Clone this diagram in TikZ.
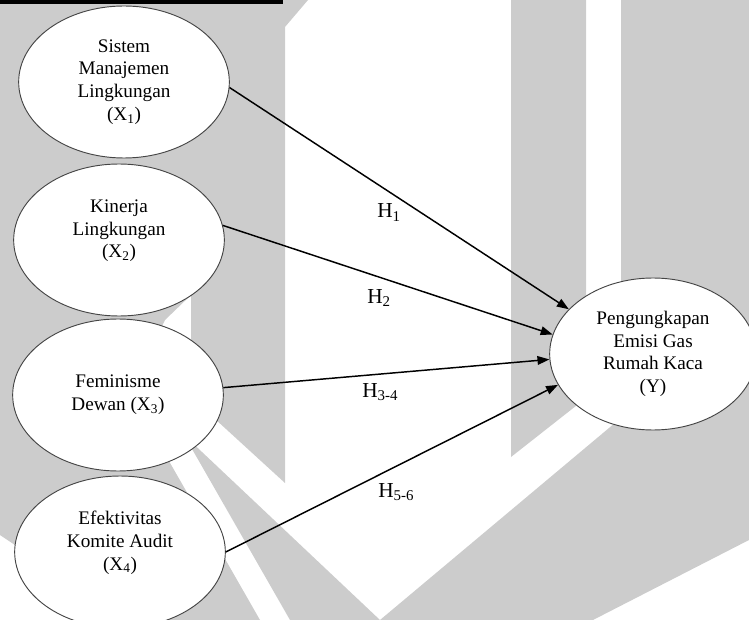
\documentclass[tikz,border=0pt]{standalone}
\usepackage{fontspec}
\setmainfont{Liberation Serif}
\usetikzlibrary{shapes.geometric}
\usetikzlibrary{arrows.meta}
\RequirePackage{xcolor}
\definecolor{wmgrey}{HTML}{CCCCCC}
\definecolor{rimgrey}{HTML}{454545}

\begin{document}
\begin{tikzpicture}[x=0.75pt, y=-0.75pt,
    var/.style={ellipse, draw=rimgrey, line width=0.7pt, fill=white, inner sep=0pt,
      minimum width=158pt, minimum height=114pt, align=center,
      font=\fontsize{14.4}{17}\selectfont},
    hyp/.style={-{Triangle[length=9pt,width=6.5pt]}, line width=1.1pt},
    hlab/.style={anchor=base west, inner sep=0pt, font=\fontsize{16}{19}\selectfont}]

	    % page frame
	    \useasboundingbox (0,0) rectangle (749,620);
	    \clip (0,0) rectangle (749,620);

	    % grey watermark behind the model
	    \fill[wmgrey] (0,0) -- (191,0) -- (191,295) -- (165,320) -- (130,393) --
	    (260,620) -- (127,620) -- (0,535) -- cycle;
	    \fill[wmgrey] (191,0) -- (308,0) -- (285,27) -- (285,483) -- (191,397) -- cycle;
	    \fill[wmgrey] (184,435) -- (290,620) -- (380,620) -- cycle;
	    \fill[wmgrey] (511,0) -- (586,0) -- (586,398) -- (511,457) -- cycle;
	    \fill[wmgrey] (621,0) -- (749,0) -- (749,540) -- (593,620) -- (380,620) --
	    (640,402) -- (621,385) -- cycle;
	    \fill[black] (0,0) rectangle (283,4.5);

	    % variables
	    \node[var] (x1) at (124,82) {Sistem\\Manajemen\\Lingkungan\\(X\textsubscript{1})};
	    \node[var] (x2) at (119,240) {Kinerja\\Lingkungan\\(X\textsubscript{2})\\\mbox{}};
	    \node[var] (x3) at (118,395) {Feminisme\\Dewan (X\textsubscript{3})};
	    \node[var] (x4) at (120,552) {Efektivitas\\Komite Audit\\(X\textsubscript{4})\\\mbox{}};
	    \node[var, minimum width=155pt] (y) at (653,354) {Pengungkapan\\Emisi Gas\\Rumah Kaca\\(Y)};

	    % hypotheses
	    \draw[hyp] (x1.357) -- (y.152);
	    \draw[hyp] (x2.8) -- (y.169);
	    \draw[hyp] (x3.4) -- (y.183);
	    \draw[hyp] (x4.0) -- (y.198);

	    \node[hlab] (h1) at (377,218) {H\textsubscript{1}};
	    \node[hlab] (h2) at (367,303) {H\textsubscript{2}};
	    \node[hlab] (h34) at (362,397) {H\textsubscript{3-4}};
	    \node[hlab] (h56) at (378,497) {H\textsubscript{5-6}};
	  \end{tikzpicture}
\end{document}
